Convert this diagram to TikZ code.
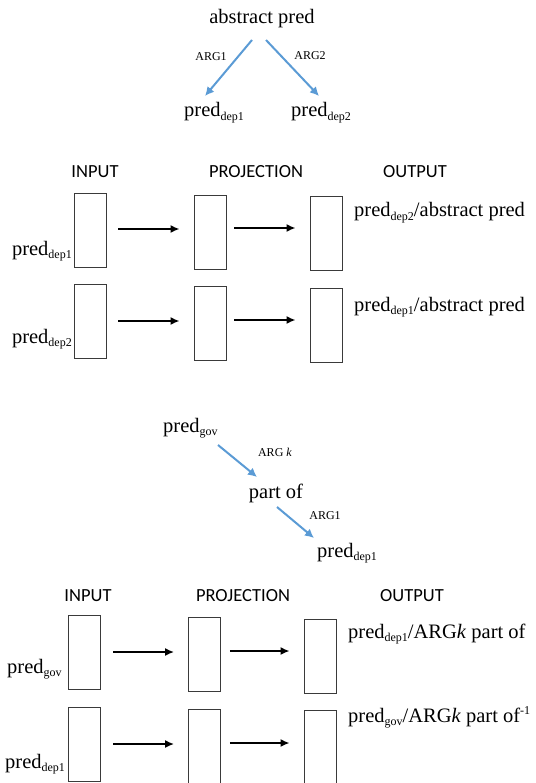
\documentclass[tikz,border=0pt]{standalone}
\usepackage{fontspec}
\setmainfont{Liberation Serif}
\newfontfamily\headfont{Carlito}
\usetikzlibrary{arrows.meta}
\definecolor{argblue}{HTML}{5B9BD5}
\definecolor{boxgray}{HTML}{3A3A3A}
\newcommand\subx[1]{\raisebox{-0.35ex}{\fontsize{12}{12}\selectfont #1}}
\newcommand\supx[1]{\raisebox{0.75ex}{\fontsize{12}{12}\selectfont #1}}
\begin{document}
\begin{tikzpicture}[x=1pt,y=-1pt,
  txt/.style={inner sep=0pt,font=\fontsize{20.5}{22}\selectfont},
  lbl/.style={inner sep=0pt,font=\fontsize{12}{14}\selectfont},
  head/.style={inner sep=0pt,anchor=base,font=\headfont\fontsize{18.5}{20}\selectfont},
  cell/.style={draw=boxgray,line width=0.8pt,minimum width=32pt,minimum height=74pt,inner sep=0pt},
  flow/.style={line width=2.2pt,-{Latex[length=9pt,width=8pt]}},
  arg/.style={argblue,line width=2pt,-{Latex[length=9pt,width=9pt]}}]
\useasboundingbox (0,0) rectangle (535,783);

% ---------- top tree ----------
\node[txt,anchor=base] (abs) at (262,24) {abstract pred};
\node[txt,anchor=base west] (d1) at (184,117) {pred\subx{dep1}};
\node[txt,anchor=base west] (d2) at (291,117) {pred\subx{dep2}};
\coordinate (a1s) at (252,40); \coordinate (a1e) at (205,96);
\coordinate (a2s) at (266,40); \coordinate (a2e) at (319,96);
\draw[arg] (a1s) -- (a1e);
\draw[arg] (a2s) -- (a2e);
\node[lbl] (l1) at (211,57) {ARG1};
\node[lbl] (l2) at (310,56) {ARG2};

% ---------- first network ----------
\node[head] (h1) at (95,178) {INPUT};
\node[head] (h2) at (256,178) {PROJECTION};
\node[head] (h3) at (415,178) {OUTPUT};

\node[cell] (i1) at (90,230) {};
\node[cell] (p1) at (210,232) {};
\node[cell] (o1) at (326,233) {};
\node[cell] (i2) at (90,321) {};
\node[cell] (p2) at (210,323) {};
\node[cell] (o2) at (326,325) {};
\draw[flow] ([xshift=12pt]i1.east|-0,229) -- ([xshift=-14pt]p1.west|-0,229);
\draw[flow] ([xshift=8pt]p1.east|-0,228) -- ([xshift=-14pt]o1.west|-0,228);
\draw[flow] ([xshift=12pt]i2.east|-0,321) -- ([xshift=-14pt]p2.west|-0,321);
\draw[flow] ([xshift=8pt]p2.east|-0,320) -- ([xshift=-14pt]o2.west|-0,320);

\node[txt,anchor=base east] (in1) at (72,255) {pred\subx{dep1}};
\node[txt,anchor=base east] (in2) at (72,343) {pred\subx{dep2}};
\node[txt,anchor=base west] (out1) at (354,217) {pred\subx{dep2}/abstract pred};
\node[txt,anchor=base west] (out2) at (354,311) {pred\subx{dep1}/abstract pred};

% ---------- middle chain ----------
\node[txt,anchor=base west] (gov) at (163,432) {pred\subx{gov}};
\node[txt,anchor=base] (part) at (276,498) {part of};
\node[txt,anchor=base west] (dep) at (317,557) {pred\subx{dep1}};
\coordinate (b1s) at (218,445); \coordinate (b1e) at (257,477);
\coordinate (b2s) at (277,507); \coordinate (b2e) at (314,538);
\draw[arg] (b1s) -- (b1e);
\draw[arg] (b2s) -- (b2e);
\node[lbl] (lk) at (275,452) {ARG \textit{k}};
\node[lbl] (la) at (325,516) {ARG1};

% ---------- second network ----------
\node[head] (g1) at (88,601) {INPUT};
\node[head] (g2) at (243,601) {PROJECTION};
\node[head] (g3) at (412,601) {OUTPUT};

\node[cell] (j1) at (84,652.5) {};
\node[cell] (q1) at (204.5,654.5) {};
\node[cell] (r1) at (320,656) {};
\node[cell] (j2) at (84,744) {};
\node[cell] (q2) at (204.5,746) {};
\node[cell] (r2) at (320,747.5) {};
\draw[flow] ([xshift=13pt]j1.east|-0,652) -- ([xshift=-14pt]q1.west|-0,652);
\draw[flow] ([xshift=9pt]q1.east|-0,651) -- ([xshift=-14pt]r1.west|-0,651);
\draw[flow] ([xshift=13pt]j2.east|-0,744) -- ([xshift=-14pt]q2.west|-0,744);
\draw[flow] ([xshift=9pt]q2.east|-0,743) -- ([xshift=-14pt]r2.west|-0,743);

\node[txt,anchor=base west] (jn1) at (7,673) {pred\subx{gov}};
\node[txt,anchor=base west] (jn2) at (5,768) {pred\subx{dep1}};
\node[txt,anchor=base west] (ro1) at (348,638) {pred\subx{dep1}/ARG\textit{k} part of};
\node[txt,anchor=base west] (ro2) at (348,722) {pred\subx{gov}/ARG\textit{k} part of\supx{-1}};
\end{tikzpicture}
\end{document}
